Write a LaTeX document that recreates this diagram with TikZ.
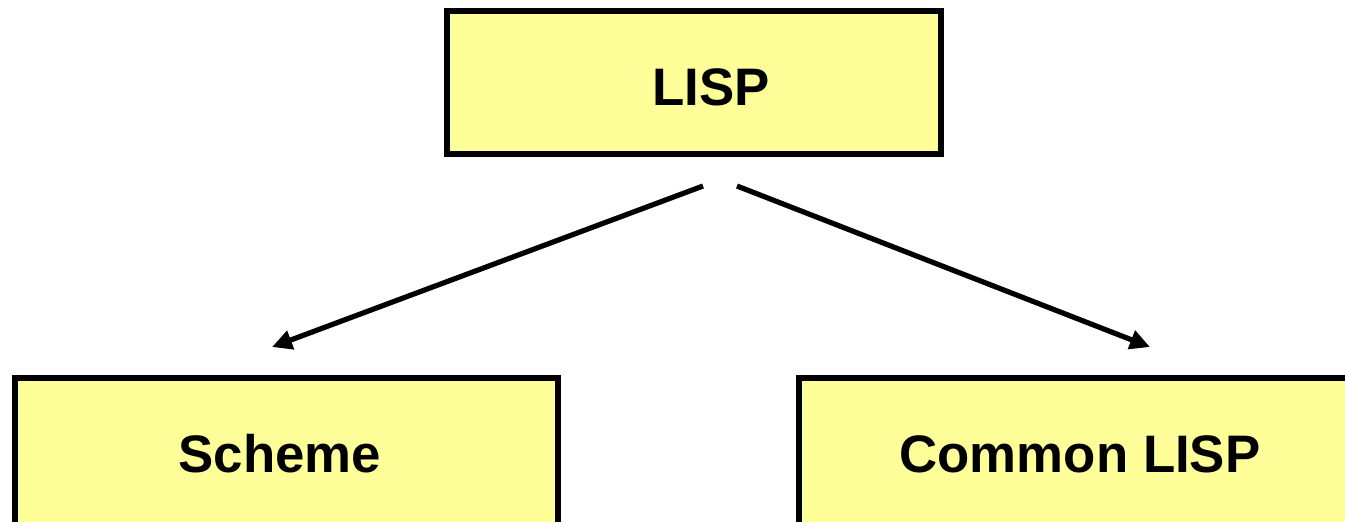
\documentclass[tikz,border=0pt]{standalone}
\usepackage{fontspec}
\setmainfont{Liberation Sans}
\usetikzlibrary{arrows.meta}
\definecolor{boxfill}{HTML}{FFFF99}
\begin{document}
\begin{tikzpicture}[x=0.5pt,y=-0.5pt,
  box/.style={draw=black,line width=2.8pt,fill=boxfill,rectangle,inner sep=0pt},
  lbl/.style={font=\fontsize{26.4}{30}\selectfont\bfseries,inner sep=0pt,anchor=base},
  conn/.style={line width=2.6pt,-{Triangle[length=10pt,width=9.5pt]}}]
\useasboundingbox (0,0) rectangle (1345,521);
\clip (0,0) rectangle (1345,521);
\fill[white] (0,0) rectangle (1345,521);
\node[box,minimum width=247pt,minimum height=71.5pt] (lisp) at (694,82.5) {};
\node[box,minimum width=271.5pt,minimum height=77pt] (schemebox) at (286.5,455) {};
\node[box,minimum width=281pt,minimum height=77pt] (clbox) at (1080,455) {};
\node[lbl] (lisplbl) at (711,105) {LISP};
\node[lbl] (schemelbl) at (280,472) {Scheme};
\node[lbl] (cllbl) at (1080,472) {Common LISP};
\coordinate (s1) at (703,186);
\coordinate (e1) at (272,347);
\coordinate (s2) at (737,186);
\coordinate (e2) at (1150,347);
\draw[conn] (s1) -- (e1);
\draw[conn] (s2) -- (e2);
\end{tikzpicture}
\end{document}
